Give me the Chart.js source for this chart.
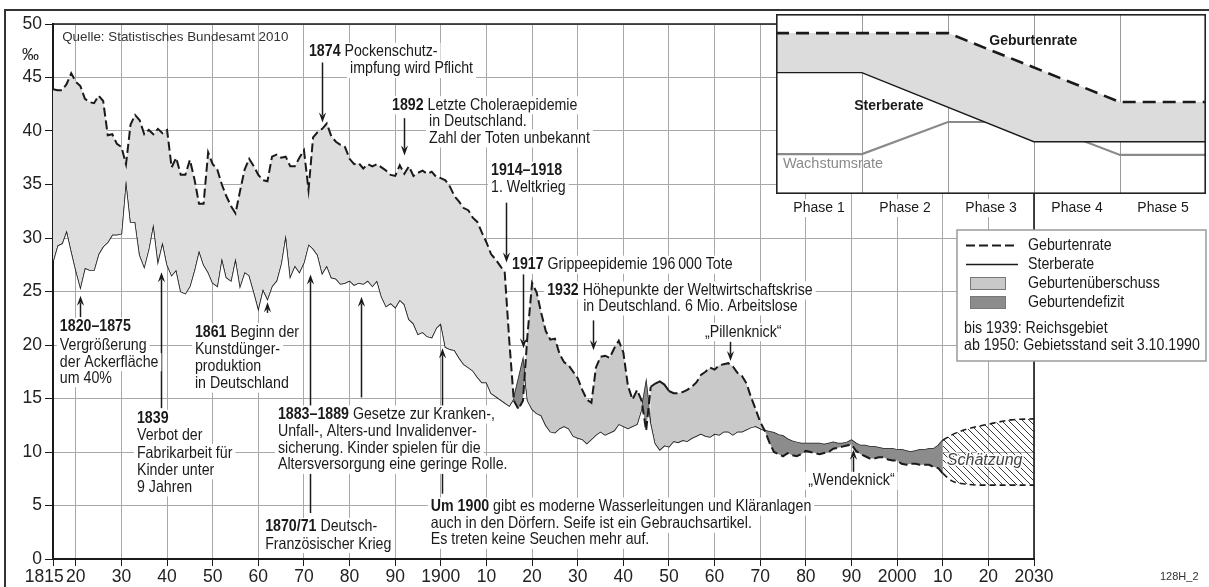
<!DOCTYPE html>
<html lang="de">
<head>
<meta charset="utf-8">
<title>Geburten- und Sterberate in Deutschland 1815–2030</title>
<script src="https://cdn.jsdelivr.net/npm/chart.js@4.4.1/dist/chart.umd.min.js"></script>
<style>
  html, body { margin: 0; padding: 0; background: #fff; }
  #wrap { position: relative; width: 1209px; height: 587px; overflow: hidden; background: #fff; }
  #mainChart { position: absolute; left: 0; top: 0; }
  #phaseChart { position: absolute; left: 776px; top: 14px; }
</style>
</head>
<body>
<div id="wrap">
  <canvas id="mainChart" width="1209" height="587" style="width:1209px;height:587px"></canvas>
  <canvas id="phaseChart" width="430" height="212" style="width:430px;height:212px"></canvas>
</div>
<script>
// ---- data (per mille) ----
const firstYear = 1815;   // birthRate[0] / deathRate[0] belong to 1815, one value per year up to 2010

const birthRate = [
  43.9, 43.8, 43.8, 44.4, 45.4, 44.6, 44.2, 43.0, 42.7, 42.6,   // 1815-1824
  43.3, 42.8, 39.6, 39.7, 38.8, 38.5, 36.9, 40.6, 41.5, 41.0,   // 1825-1834
  39.7, 40.1, 39.7, 40.2, 39.8, 40.1, 36.6, 37.5, 35.9, 35.9,   // 1835-1844
  37.3, 35.5, 33.2, 33.2, 38.0, 36.9, 36.4, 35.0, 33.9, 33.0,   // 1845-1854
  32.3, 34.4, 36.4, 37.4, 36.7, 35.9, 35.4, 35.3, 37.6, 37.8,   // 1855-1864
  37.5, 37.6, 36.7, 36.7, 37.5, 38.2, 34.5, 39.4, 39.9, 40.2,   // 1865-1874
  40.7, 39.5, 39.0, 38.7, 38.5, 37.4, 36.9, 37.0, 36.5, 36.9,   // 1875-1884
  36.7, 36.9, 36.6, 36.3, 35.9, 35.8, 36.8, 36.0, 36.7, 35.8,   // 1885-1894
  36.1, 36.3, 36.0, 36.2, 35.7, 35.6, 35.4, 34.8, 33.9, 33.4,   // 1895-1904
  32.8, 32.6, 31.9, 31.5, 30.5, 29.6, 28.5, 28.0, 27.4, 26.8,   // 1905-1914
  20.4, 14.8, 14.0, 14.8, 21.0, 25.8, 24.9, 23.0, 21.3, 20.5,   // 1915-1924
  20.6, 19.2, 18.4, 18.1, 17.5, 16.9, 15.8, 14.9, 14.6, 17.9,   // 1925-1934
  18.9, 19.0, 18.8, 19.7, 20.4, 19.3, 16.2, 14.9, 15.8, 14.8,   // 1935-1944
  12.0, 16.1, 16.4, 16.6, 16.3, 15.7, 15.5, 15.5, 15.6, 15.8,   // 1945-1954
  16.1, 16.5, 17.2, 17.5, 17.9, 17.7, 18.1, 18.2, 18.3, 18.0,   // 1955-1964
  17.4, 17.1, 16.4, 15.1, 14.0, 12.8, 12.0, 10.9, 10.0, 9.8,    // 1965-1974
  9.6, 9.9, 9.7, 9.6, 9.8, 10.1, 10.0, 9.9, 9.8, 9.9,           // 1975-1984
  10.0, 10.3, 10.4, 10.5, 10.6, 10.7, 10.1, 9.8, 9.6, 9.4,      // 1985-1994
  9.4, 9.5, 9.5, 9.3, 9.2, 9.2, 8.9, 8.8, 8.9, 8.9,             // 1995-2004
  8.8, 8.8, 8.8, 8.6, 8.5, 8.0                                  // 2005-2010
];

const deathRate = [
  27.8, 29.3, 29.5, 30.7, 28.8, 27.0, 25.4, 27.2, 27.0, 27.0,   // 1815-1824
  28.5, 29.2, 29.6, 30.3, 30.3, 30.4, 35.4, 31.5, 31.5, 28.4,   // 1825-1834
  27.3, 29.0, 31.3, 27.8, 29.6, 27.5, 26.5, 27.0, 25.0, 24.8,   // 1835-1844
  25.5, 27.0, 28.8, 27.5, 26.8, 25.8, 25.5, 28.1, 26.3, 26.0,   // 1845-1854
  28.1, 25.5, 26.8, 26.5, 25.0, 23.4, 25.2, 24.3, 25.5, 26.0,   // 1855-1864
  27.6, 30.3, 26.4, 27.4, 26.8, 27.7, 29.4, 29.0, 28.4, 26.7,   // 1865-1874
  27.4, 26.3, 26.2, 25.7, 25.8, 26.0, 25.6, 25.8, 25.7, 26.0,   // 1875-1884
  25.5, 26.0, 24.5, 23.6, 23.9, 23.5, 24.2, 23.8, 22.4, 22.0,   // 1885-1894
  21.0, 21.2, 20.8, 20.7, 21.6, 22.0, 19.8, 19.6, 19.5, 18.8,   // 1895-1904
  18.2, 17.9, 17.6, 17.0, 16.5, 16.5, 15.5, 15.2, 14.9, 14.6,   // 1905-1914
  14.3, 15.0, 16.8, 18.6, 14.8, 14.0, 13.6, 13.4, 12.5, 11.9,   // 1915-1924
  11.8, 12.2, 12.4, 12.2, 11.5, 11.3, 11.2, 10.8, 11.2, 11.6,   // 1925-1934
  11.9, 11.6, 11.8, 12.0, 12.6, 12.4, 12.2, 12.4, 12.6, 14.0,   // 1935-1944
  16.5, 12.8, 10.8, 10.2, 10.6, 10.5, 11.0, 10.9, 11.1, 11.0,   // 1945-1954
  11.3, 11.5, 11.7, 11.5, 11.4, 11.7, 11.6, 11.9, 11.9, 11.6,   // 1955-1964
  11.9, 11.9, 12.1, 12.3, 12.4, 12.2, 12.0, 11.9, 11.8, 11.6,   // 1965-1974
  11.5, 11.2, 11.0, 10.9, 10.8, 10.8, 10.8, 10.8, 10.8, 10.7,   // 1975-1984
  10.8, 10.9, 10.8, 10.8, 10.9, 11.1, 10.8, 10.6, 10.6, 10.5,   // 1985-1994
  10.5, 10.4, 10.3, 10.3, 10.3, 10.2, 10.2, 10.1, 10.0, 10.1,   // 1995-2004
  10.2, 10.2, 10.3, 10.3, 10.6, 11.1                            // 2005-2010
];

// Schätzung 2010-2030
const estimateYears = [2010, 2012, 2015, 2020, 2025, 2030];
const estimateUpper = [11.1, 11.6, 12.1, 12.6, 13.0, 13.1];
const estimateLower = [8.0, 7.3, 7.0, 6.9, 6.9, 6.9];

// x-axis ticks and labels
const xTickYears = [1815, 1820, 1830, 1840, 1850, 1860, 1870, 1880, 1890, 1900, 1910, 1920,
                    1930, 1940, 1950, 1960, 1970, 1980, 1990, 2000, 2010, 2020, 2030];
const xTickLabels = ['1815\u2002\u2002', '20', '30', '40', '50', '60', '70', '80', '90', '1900', '10', '20',
                     '30', '40', '50', '60', '70', '80', '90', '2000', '10', '20', '2030'];
const yTicks = [0, 5, 10, 15, 20, 25, 30, 35, 40, 45, 50];

// Inset: Modell des demographischen Übergangs (x = phase boundaries 0..5, y = relative level 0..100)
const phaseNames = ['Phase 1', 'Phase 2', 'Phase 3', 'Phase 4', 'Phase 5'];
const phaseEdges = [0, 1, 2, 3, 4, 5];
const insetBirthX = [0, 2, 4, 5];
const insetBirthY = [89.4, 89.4, 51.1, 51.1];
const insetDeathX = [0, 1, 3, 5];
const insetDeathY = [67.8, 67.8, 29.4, 29.4];
const insetGrowthX = [0, 1, 2, 3, 4, 5];
const insetGrowthY = [22.2, 22.2, 40.0, 40.0, 21.7, 21.7];

// ---- styles ----
const SANS = '"Liberation Sans", Arial, sans-serif';
const NARROW_K = 0.86;     // horizontal squeeze to imitate the condensed annotation font
const NOTE_SIZE = 16.5;
const INK = '#1a1a1a';
const GRID = '#a8a8a8';
const SURPLUS_OLD = '#dedede';
const SURPLUS_NEW = '#c9c9c9';
const DEFICIT = '#8c8c8c';
const BIRTH_DASH = [9, 4];

function pts(xs, ys) {
    return xs.map((x, i) => ({ x: x, y: ys[i] }));
}

const years = birthRate.map((_, i) => firstYear + i);
const allBirth = pts(years, birthRate);
const allDeath = pts(years, deathRate);
const cut = years.indexOf(1916);   // lighter grey before WW1, darker after

const mainCanvas = document.getElementById('mainChart');

function makeHatch() {
    const c = document.createElement('canvas');
    c.width = 7; c.height = 7;
    const g = c.getContext('2d');
    g.strokeStyle = '#3a3a3a';
    g.lineWidth = 1;
    g.beginPath();
    g.moveTo(-1, -1); g.lineTo(8, 8);
    g.moveTo(-1, 6); g.lineTo(1, 8);
    g.moveTo(6, -1); g.lineTo(8, 1);
    g.stroke();
    return mainCanvas.getContext('2d').createPattern(c, 'repeat');
}
const hatch = makeHatch();

// ---- annotations: [year, value, bold text, normal text] ----
const noteLines = [
    [1871.1, 47.4, '1874', ' Pockenschutz-'],
    [1880.1, 45.8, '', 'impfung wird Pflicht'],
    [1889.3, 42.4, '1892', ' Letzte Choleraepidemie'],
    [1897.4, 40.9, '', 'in Deutschland.'],
    [1897.4, 39.3, '', 'Zahl der Toten unbekannt'],
    [1911.0, 36.3, '1914\u20131918', ''],
    [1911.0, 34.7, '', '1. Weltkrieg'],
    [1915.6, 27.5, '1917', ' Grippeepidemie 196\u2009000 Tote'],
    [1923.3, 25.1, '1932', ' Höhepunkte der Weltwirtschaftskrise'],
    [1931.2, 23.6, '', 'in Deutschland. 6 Mio. Arbeitslose'],
    [1957.9, 21.2, '', '\u201EPillenknick\u201C'],
    [1816.5, 21.7, '1820\u20131875', ''],
    [1816.5, 20.0, '', 'Vergrößerung'],
    [1816.5, 18.4, '', 'der Ackerfläche'],
    [1816.5, 16.9, '', 'um 40%'],
    [1833.4, 13.1, '1839', ''],
    [1833.4, 11.5, '', 'Verbot der'],
    [1833.4, 9.9, '', 'Fabrikarbeit für'],
    [1833.4, 8.3, '', 'Kinder unter'],
    [1833.4, 6.7, '', '9 Jahren'],
    [1846.1, 21.2, '1861', ' Beginn der'],
    [1846.1, 19.6, '', 'Kunstdünger-'],
    [1846.1, 18.0, '', 'produktion'],
    [1846.1, 16.4, '', 'in Deutschland'],
    [1864.3, 13.5, '1883\u20131889', ' Gesetze zur Kranken-,'],
    [1864.3, 11.9, '', 'Unfall-, Alters-und Invalidenver-'],
    [1864.3, 10.3, '', 'sicherung. Kinder spielen für die'],
    [1864.3, 8.8, '', 'Altersversorgung eine geringe Rolle.'],
    [1861.5, 3.0, '1870/71', ' Deutsch-'],
    [1861.5, 1.4, '', 'Französischer Krieg'],
    [1897.8, 4.9, 'Um 1900', ' gibt es moderne Wasserleitungen und Kläranlagen'],
    [1897.8, 3.3, '', 'auch in den Dörfern. Seife ist ein Gebrauchsartikel.'],
    [1897.8, 1.8, '', 'Es treten keine Seuchen mehr auf.'],
    [1980.5, 7.3, '', '\u201EWendeknick\u201C']
];

// [year, from value, to value (arrow head)]
const arrows = [
    [1874.0, 46.4, 40.8],
    [1891.9, 41.2, 37.7],
    [1914.3, 33.3, 27.7],
    [1918.0, 26.6, 19.7],
    [1933.3, 22.3, 19.5],
    [1963.4, 20.3, 18.5],
    [1820.9, 22.6, 24.6],
    [1838.7, 14.1, 26.8],
    [1861.9, 23.0, 24.0],
    [1871.3, 4.3, 26.6],
    [1882.5, 15.1, 24.5],
    [1900.3, 6.1, 19.7],
    [1990.3, 8.1, 10.2]
];

function fontStr(size, bold) {
    return (bold ? 'bold ' : '') + size + 'px ' + SANS;
}

function narrowWidth(ctx, str, size, bold) {
    ctx.font = fontStr(size, bold);
    return ctx.measureText(str).width * NARROW_K;
}

function narrowText(ctx, str, x, y, size, bold) {
    ctx.save();
    ctx.translate(x, y);
    ctx.scale(NARROW_K, 1);
    ctx.font = fontStr(size, bold);
    ctx.textAlign = 'left';
    ctx.textBaseline = 'middle';
    ctx.fillText(str, 0, 0);
    ctx.restore();
}

function drawArrow(ctx, x, y1, y2) {
    const dir = y2 > y1 ? 1 : -1;
    const head = 10, half = 3.6;
    ctx.strokeStyle = INK;
    ctx.lineWidth = 1.5;
    ctx.beginPath();
    ctx.moveTo(x, y1);
    ctx.lineTo(x, y2 - dir * head * 0.7);
    ctx.stroke();
    ctx.fillStyle = INK;
    ctx.beginPath();
    ctx.moveTo(x, y2);
    ctx.lineTo(x - half, y2 - dir * head);
    ctx.lineTo(x, y2 - dir * head * 0.65);
    ctx.lineTo(x + half, y2 - dir * head);
    ctx.closePath();
    ctx.fill();
}

function drawNote(ctx, x, y, bold, text, size) {
    const wb = bold ? narrowWidth(ctx, bold, size, true) : 0;
    const wn = text ? narrowWidth(ctx, text, size, false) : 0;
    ctx.fillStyle = '#fff';
    ctx.fillRect(x - 3, y - size * 0.55, wb + wn + 6, size * 1.1);
    ctx.fillStyle = INK;
    if (bold) narrowText(ctx, bold, x, y, size, true);
    if (text) narrowText(ctx, text, x + wb, y, size, false);
}

const decorPlugin = {
    id: 'decor',
    afterDraw(chart) {
        const ctx = chart.ctx;
        const a = chart.chartArea;
        const xs = chart.scales.x, ys = chart.scales.y;
        ctx.save();

        // plot frame (top + right)
        ctx.strokeStyle = INK;
        ctx.lineWidth = 1.6;
        ctx.beginPath();
        ctx.moveTo(a.left, a.top);
        ctx.lineTo(a.right, a.top);
        ctx.lineTo(a.right, a.bottom);
        ctx.stroke();

        // outer frame
        ctx.strokeStyle = '#333';
        ctx.lineWidth = 2;
        ctx.beginPath();
        ctx.moveTo(5, 600);
        ctx.lineTo(5, 10);
        ctx.lineTo(1215, 10);
        ctx.stroke();

        // per mille sign
        ctx.fillStyle = INK;
        ctx.font = '17px ' + SANS;
        ctx.textAlign = 'left';
        ctx.textBaseline = 'middle';
        ctx.fillText('\u2030', 22, 55);

        // source
        ctx.fillStyle = '#333';
        ctx.font = '13.4px ' + SANS;
        ctx.fillText('Quelle: Statistisches Bundesamt 2010', xs.getPixelForValue(1817.0), ys.getPixelForValue(48.8));

        // arrows first, text boxes on top
        arrows.forEach(ar => {
            drawArrow(ctx, Math.round(xs.getPixelForValue(ar[0])) + 0.5, ys.getPixelForValue(ar[1]), ys.getPixelForValue(ar[2]));
        });
        noteLines.forEach(n => {
            drawNote(ctx, xs.getPixelForValue(n[0]), ys.getPixelForValue(n[1]), n[2], n[3], NOTE_SIZE);
        });

        // estimate label
        ctx.font = 'italic 16px ' + SANS;
        ctx.textAlign = 'left';
        ctx.textBaseline = 'middle';
        ctx.lineWidth = 3;
        ctx.strokeStyle = '#fff';
        const sx = xs.getPixelForValue(2010.9), sy = ys.getPixelForValue(9.2);
        ctx.strokeText('Schätzung', sx, sy);
        ctx.fillStyle = '#444';
        ctx.fillText('Schätzung', sx, sy);

        // legend box
        const lx = 957, ly = 230, lw = 249, lh = 131;
        ctx.fillStyle = '#fff';
        ctx.fillRect(lx, ly, lw, lh);
        ctx.strokeStyle = '#9a9a9a';
        ctx.lineWidth = 1.5;
        ctx.strokeRect(lx, ly, lw, lh);

        ctx.strokeStyle = INK;
        ctx.lineWidth = 2;
        ctx.setLineDash([9, 4]);
        ctx.beginPath(); ctx.moveTo(966, 245.5); ctx.lineTo(1018, 245.5); ctx.stroke();
        ctx.setLineDash([]);
        ctx.lineWidth = 1.6;
        ctx.beginPath(); ctx.moveTo(966, 264.5); ctx.lineTo(1018, 264.5); ctx.stroke();

        ctx.lineWidth = 1;
        ctx.strokeStyle = '#777';
        ctx.fillStyle = SURPLUS_NEW;
        ctx.fillRect(970, 277, 36, 13);
        ctx.strokeRect(970.5, 277.5, 35, 12);
        ctx.fillStyle = DEFICIT;
        ctx.fillRect(970, 296, 36, 13);
        ctx.strokeRect(970.5, 296.5, 35, 12);

        ctx.fillStyle = INK;
        narrowText(ctx, 'Geburtenrate', 1028, 245, 16.5, false);
        narrowText(ctx, 'Sterberate', 1028, 264, 16.5, false);
        narrowText(ctx, 'Geburtenüberschuss', 1028, 283, 16.5, false);
        narrowText(ctx, 'Geburtendefizit', 1028, 302, 16.5, false);
        narrowText(ctx, 'bis 1939: Reichsgebiet', 964, 328, 16.5, false);
        narrowText(ctx, 'ab 1950: Gebietsstand seit 3.10.1990', 964, 345, 16.5, false);

        // image id
        ctx.fillStyle = '#333';
        ctx.font = '11px ' + SANS;
        ctx.textAlign = 'left';
        ctx.textBaseline = 'middle';
        ctx.fillText('128H_2', 1160, 577);

        ctx.restore();
    }
};

new Chart(mainCanvas, {
    type: 'line',
    data: {
        datasets: [
            {
                label: 'Geburtenrate',
                data: allBirth.slice(0, cut + 1),
                borderColor: INK, borderWidth: 2, borderDash: BIRTH_DASH,
                pointRadius: 0, tension: 0,
                fill: { target: 1, above: SURPLUS_OLD, below: DEFICIT }
            },
            {
                label: 'Sterberate',
                data: allDeath.slice(0, cut + 1),
                borderColor: INK, borderWidth: 1.5,
                pointRadius: 0, tension: 0, fill: false
            },
            {
                label: 'Geburtenrate',
                data: allBirth.slice(cut),
                borderColor: INK, borderWidth: 2, borderDash: BIRTH_DASH,
                pointRadius: 0, tension: 0,
                segment: {
                    // 1946-1950 drawn solid in the original
                    borderDash: ctx => (ctx.p0.parsed.x >= 1946 && ctx.p1.parsed.x <= 1950) ? [] : BIRTH_DASH
                },
                fill: { target: 3, above: SURPLUS_NEW, below: DEFICIT }
            },
            {
                label: 'Sterberate',
                data: allDeath.slice(cut),
                borderColor: INK, borderWidth: 1.5,
                pointRadius: 0, tension: 0, fill: false
            },
            {
                label: 'Schätzung',
                data: pts(estimateYears, estimateUpper),
                borderColor: INK, borderWidth: 1.6, borderDash: [6, 4],
                pointRadius: 0, tension: 0.4, cubicInterpolationMode: 'monotone',
                fill: { target: 5, above: hatch, below: hatch }
            },
            {
                label: 'Schätzung',
                data: pts(estimateYears, estimateLower),
                borderColor: INK, borderWidth: 1.6, borderDash: [6, 4],
                pointRadius: 0, tension: 0.4, cubicInterpolationMode: 'monotone',
                fill: false
            }
        ]
    },
    options: {
        responsive: false,
        animation: false,
        layout: { padding: { left: 0, right: 175, top: 24, bottom: 0 } },
        plugins: {
            legend: { display: false },
            tooltip: { enabled: false }
        },
        scales: {
            x: {
                type: 'linear', min: 1815, max: 2030,
                afterBuildTicks: s => { s.ticks = xTickYears.map(v => ({ value: v })); },
                afterFit: s => { s.height = 28; },
                grid: { color: GRID, lineWidth: 1, tickColor: INK, tickLength: 7 },
                border: { color: INK, width: 2 },
                ticks: {
                    autoSkip: false, maxRotation: 0, padding: 1, color: '#222',
                    font: { family: SANS, size: 17.5 },
                    callback: v => xTickLabels[xTickYears.indexOf(v)]
                }
            },
            y: {
                min: 0, max: 50,
                afterBuildTicks: s => { s.ticks = yTicks.map(v => ({ value: v })); },
                afterFit: s => { s.width = 53; },
                grid: { color: GRID, lineWidth: 1, tickColor: INK, tickLength: 8 },
                border: { color: INK, width: 2 },
                ticks: { padding: 3, color: '#222', font: { family: SANS, size: 17.5 } }
            }
        }
    },
    plugins: [decorPlugin]
});

// ---- inset: demographic transition model ----
const insetPlugin = {
    id: 'insetDecor',
    beforeDraw(chart) {
        const a = chart.chartArea;
        chart.ctx.save();
        chart.ctx.fillStyle = '#fff';
        chart.ctx.fillRect(a.left, a.top, a.right - a.left, a.bottom - a.top);
        chart.ctx.restore();
    },
    afterDraw(chart) {
        const ctx = chart.ctx;
        const a = chart.chartArea;
        const xs = chart.scales.x, ys = chart.scales.y;
        ctx.save();
        ctx.strokeStyle = '#222';
        ctx.lineWidth = 1.6;
        ctx.strokeRect(a.left + 0.8, a.top + 0.8, a.right - a.left - 1.6, a.bottom - a.top - 1.6);

        ctx.textBaseline = 'middle';
        ctx.textAlign = 'left';
        ctx.fillStyle = INK;
        ctx.font = 'bold 14px ' + SANS;
        ctx.fillText('Geburtenrate', xs.getPixelForValue(2.48), ys.getPixelForValue(85));
        ctx.fillText('Sterberate', xs.getPixelForValue(0.91), ys.getPixelForValue(48.9));
        ctx.fillStyle = '#8a8a8a';
        ctx.font = '14.5px ' + SANS;
        ctx.fillText('Wachstumsrate', xs.getPixelForValue(0.08), ys.getPixelForValue(16.7));

        ctx.font = '14px ' + SANS;
        ctx.textAlign = 'center';
        phaseNames.forEach((name, i) => {
            const cx = xs.getPixelForValue(i + 0.5);
            const cy = ys.getPixelForValue(-7.8);
            const w = ctx.measureText(name).width;
            ctx.fillStyle = '#fff';
            ctx.fillRect(cx - w / 2 - 4, cy - 9, w + 8, 18);
            ctx.fillStyle = INK;
            ctx.fillText(name, cx, cy);
        });
        ctx.restore();
    }
};

new Chart(document.getElementById('phaseChart'), {
    type: 'line',
    data: {
        datasets: [
            {
                label: 'Geburtenrate',
                data: pts(insetBirthX, insetBirthY),
                borderColor: INK, borderWidth: 2.6, borderDash: [13, 7],
                pointRadius: 0, tension: 0,
                fill: { target: 1, above: '#dcdcdc', below: '#dcdcdc' }
            },
            {
                label: 'Sterberate',
                data: pts(insetDeathX, insetDeathY),
                borderColor: INK, borderWidth: 2.6,
                pointRadius: 0, tension: 0, fill: false
            },
            {
                label: 'Wachstumsrate',
                data: pts(insetGrowthX, insetGrowthY),
                borderColor: '#8a8a8a', borderWidth: 2.2,
                pointRadius: 0, tension: 0, fill: false
            }
        ]
    },
    options: {
        responsive: false,
        animation: false,
        layout: { padding: { left: 0, right: 0, top: 0, bottom: 32 } },
        plugins: { legend: { display: false }, tooltip: { enabled: false } },
        scales: {
            x: {
                type: 'linear', min: 0, max: 5,
                afterBuildTicks: s => { s.ticks = phaseEdges.map(v => ({ value: v })); },
                afterFit: s => { s.height = 0; },
                ticks: { display: false },
                grid: { color: '#9a9a9a', lineWidth: 1, drawTicks: false },
                border: { display: false }
            },
            y: { min: 0, max: 100, display: false }
        }
    },
    plugins: [insetPlugin]
});
</script>
</body>
</html>
